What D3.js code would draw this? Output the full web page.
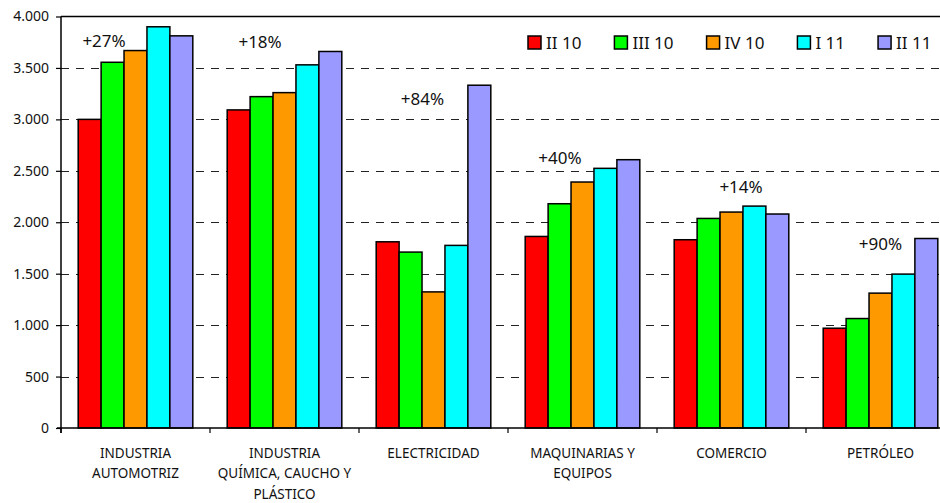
<!DOCTYPE html>
<html><head><meta charset="utf-8">
<script src="https://cdn.jsdelivr.net/npm/d3@7"></script>
<style>
html,body{margin:0;padding:0;background:#fff;}
svg{display:block;font-family:"Noto Sans",sans-serif;}
</style></head>
<body>
<svg id="chart" width="940" height="503"></svg>
<script>
// ---- data ----
const categories = [
  ["INDUSTRIA","AUTOMOTRIZ"],
  ["INDUSTRIA","QUÍMICA, CAUCHO Y","PLÁSTICO"],
  ["ELECTRICIDAD"],
  ["MAQUINARIAS Y","EQUIPOS"],
  ["COMERCIO"],
  ["PETRÓLEO"]
];
const seriesNames = ["II 10","III 10","IV 10","I 11","II 11"];
const s_II10  = [3000, 3092, 1810, 1862, 1830, 970];
const s_III10 = [3555, 3221, 1710, 2180, 2037, 1064];
const s_IV10  = [3669, 3260, 1323, 2391, 2099, 1311];
const s_I11   = [3900, 3530, 1775, 2524, 2157, 1496];
const s_II11  = [3812, 3660, 3332, 2608, 2080, 1842];
const growthLabels = ["+27%","+18%","+84%","+40%","+14%","+90%"];
const yTicks = [0,500,1000,1500,2000,2500,3000,3500,4000];

// ---- styles / layout ----
const colors = ["#FF0000","#00FF00","#FF9900","#00FFFF","#9999FF"];
const labelPosX = [0.289,0.336,0.426,0.349,0.564,0.5];   // fraction of category band
const labelPosY = [3757,3752,3194,2621,2340,1786];         // in data units
const W = 940, H = 503;
const mLeft = 61, mTop = 16.5, mBottom = 428, catW = 149;

const values = [s_II10, s_III10, s_IV10, s_I11, s_II11];
const catKeys = categories.map((c,i)=>i);

const svg = d3.select("#chart");
const x0 = d3.scaleBand().domain(catKeys).range([mLeft, mLeft + catW*categories.length]).padding(0);
const x1 = d3.scaleBand().domain(d3.range(seriesNames.length)).range([0, x0.bandwidth()]).paddingInner(0).paddingOuter(0.75);
const y = d3.scaleLinear().domain([0,4000]).range([mBottom, mTop]);

// gridlines
svg.append("g").selectAll("line").data(yTicks.filter(t=>t>0 && t<4000)).join("line")
  .attr("x1", mLeft).attr("x2", W).attr("y1", d=>Math.round(y(d))+0.5).attr("y2", d=>Math.round(y(d))+0.5)
  .attr("stroke","#222").attr("stroke-width",1).attr("stroke-dasharray","8,7");
// top border
svg.append("line").attr("x1",mLeft).attr("x2",W).attr("y1",y(4000)).attr("y2",y(4000))
  .attr("stroke","#000").attr("stroke-width",1.5);

// bars
const g = svg.append("g");
categories.forEach((c,ci)=>{
  g.append("g").attr("transform",`translate(${x0(ci)},0)`)
   .selectAll("rect").data(values.map((s,si)=>({si, v:s[ci]}))).join("rect")
   .attr("x", d=>x1(d.si)).attr("width", x1.bandwidth())
   .attr("y", d=>y(d.v)).attr("height", d=>y(0)-y(d.v))
   .attr("fill", d=>colors[d.si]).attr("stroke","#000").attr("stroke-width",1.5);
});

// y axis
const yAxis = svg.append("g").attr("transform",`translate(${mLeft},0)`)
  .call(d3.axisLeft(y).tickValues(yTicks).tickSize(5).tickPadding(7)
    .tickFormat(d=>d3.format(",")(d).replace(/,/g,".")));
yAxis.select(".domain").attr("stroke","#000").attr("stroke-width",1.5).attr("d",`M0,${mTop}V${mBottom+5}`);
yAxis.selectAll(".tick line").attr("stroke","#000").attr("stroke-width",1.2);
yAxis.selectAll("text").attr("font-size",14).attr("fill","#111").attr("font-family","Noto Sans");

// x axis
const xa = svg.append("g");
xa.append("line").attr("x1",mLeft-4).attr("x2",W).attr("y1",mBottom).attr("y2",mBottom).attr("stroke","#000").attr("stroke-width",1.5);
xa.selectAll("line.tk").data(d3.range(categories.length+1)).join("line").attr("class","tk")
  .attr("x1",d=>mLeft+d*x0.step()).attr("x2",d=>mLeft+d*x0.step())
  .attr("y1",mBottom).attr("y2",mBottom+5).attr("stroke","#000").attr("stroke-width",1.2);
categories.forEach((lines,ci)=>{
  const t = xa.append("text").attr("text-anchor","middle").attr("font-size",13.5).attr("fill","#111");
  lines.forEach((ln,li)=>{
    t.append("tspan").attr("x", x0(ci)+x0.bandwidth()/2).attr("y", 457.5 + li*20.5).text(ln);
  });
});

// growth labels
svg.append("g").selectAll("text").data(growthLabels).join("text")
  .attr("x",(d,i)=>x0(i)+labelPosX[i]*x0.bandwidth())
  .attr("y",(d,i)=>y(labelPosY[i]))
  .attr("dy","0.35em").attr("text-anchor","middle").attr("font-size",17).attr("fill","#111").text(d=>d);

// legend
const lg = svg.append("g");
let lx = 528;
seriesNames.forEach((n,i)=>{
  lg.append("rect").attr("x",lx).attr("y",36).attr("width",13).attr("height",13)
    .attr("fill",colors[i]).attr("stroke","#000").attr("stroke-width",1.5);
  const t = lg.append("text").attr("x",lx+18).attr("y",43).attr("dy","0.35em")
    .attr("font-size",17).attr("fill","#111").text(n);
  lx += 18 + t.node().getComputedTextLength() + 33;
});
</script>
</body></html>
